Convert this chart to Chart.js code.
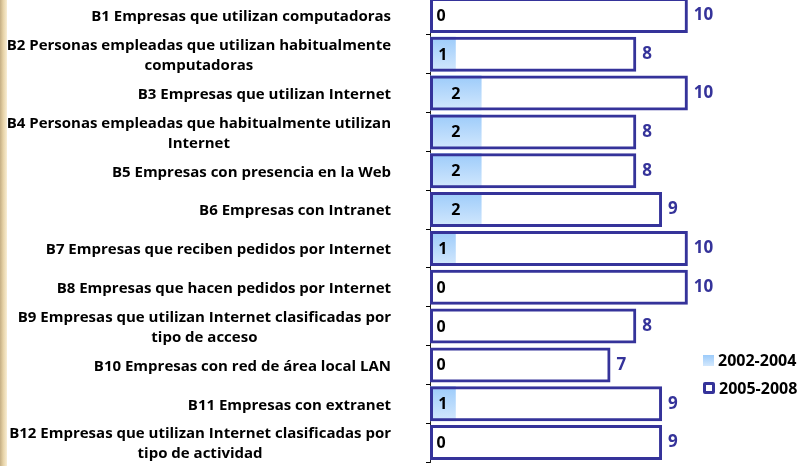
<!DOCTYPE html>
<html>
<head>
<meta charset="utf-8">
<script src="https://cdn.jsdelivr.net/npm/chart.js@4/dist/chart.umd.min.js"></script>
<style>
html, body { margin: 0; padding: 0; background: #fff; overflow: hidden; }
#wrap { position: relative; width: 803px; height: 466px; overflow: hidden; }
#edge { position: absolute; left: 0; top: 0; width: 7px; height: 466px;
        background: linear-gradient(to right, #c4ae84, #e6d2a6 45%, #f9eed4); }
#chart { position: absolute; left: 0; top: -4px; }
.leg { position: absolute; left: 703px; font: bold 16px "Open Sans", sans-serif; color: #000;
       display: flex; align-items: center; white-space: nowrap; }
.leg i { display: inline-block; margin-right: 4px; box-sizing: border-box; }
</style>
</head>
<body>
<div id="wrap">
  <div id="edge"></div>
  <canvas id="chart" width="803" height="470"></canvas>
  <div class="leg" style="top:349px"><i style="width:11px;height:11px;background:linear-gradient(#9ccbfa,#d3e8fd)"></i>2002-2004</div>
  <div class="leg" style="top:377px"><i style="width:12px;height:12px;border:3px solid #35339a;border-radius:2px;background:#fff"></i>2005-2008</div>
</div>
<script>
// Indicadores B1..B12 (wrapped the way the original chart shows them)
const categories = [
    ['B1 Empresas que utilizan computadoras'],
    ['B2 Personas empleadas que utilizan habitualmente', 'computadoras'],
    ['B3 Empresas que utilizan Internet'],
    ['B4 Personas empleadas que habitualmente utilizan', 'Internet'],
    ['B5 Empresas con presencia en la Web'],
    ['B6 Empresas con Intranet'],
    ['B7 Empresas que reciben pedidos por Internet'],
    ['B8 Empresas que hacen pedidos por Internet'],
    ['B9 Empresas que utilizan Internet clasificadas por', 'tipo de acceso'],
    ['B10 Empresas con red de área local LAN'],
    ['B11 Empresas con extranet'],
    ['B12 Empresas que utilizan Internet clasificadas por', 'tipo de actividad'],
];
const values2002 = [0, 1, 2, 2, 2, 2, 1, 0, 0, 0, 1, 0];
const values2005 = [10, 8, 10, 8, 8, 9, 10, 10, 8, 7, 9, 9];
const seriesNames = ['2002-2004', '2005-2008'];

const NAVY = '#35339a';
const LABEL_RIGHT = 391;

// light blue vertical gradient per bar
function lightBlue(ctx) {
    const chart = ctx.chart;
    if (!chart.chartArea || ctx.dataIndex == null) return '#b8dafc';
    const y = chart.scales.y.getPixelForValue(ctx.dataIndex);
    const h = chart.scales.y.height / categories.length * 0.45;
    const g = chart.ctx.createLinearGradient(0, y - h, 0, y + h);
    g.addColorStop(0, '#9ccbfa');
    g.addColorStop(1, '#d3e8fd');
    return g;
}

const labelPlugin = {
    id: 'labels',
    afterDatasetsDraw(chart) {
        const { ctx, scales: { y } } = chart;
        ctx.save();
        ctx.textBaseline = 'middle';

        // category labels: right aligned block, lines centered inside it
        ctx.font = 'bold 15px "Open Sans"';
        ctx.fillStyle = '#000';
        ctx.textAlign = 'center';
        categories.forEach((lines, i) => {
            const cy = y.getPixelForValue(i) + 1.5;
            const w = Math.max(...lines.map(l => ctx.measureText(l).width));
            const cx = LABEL_RIGHT - w / 2;
            lines.forEach((l, j) => ctx.fillText(l, cx, cy + (j - (lines.length - 1) / 2) * 20));
        });

        // 2002-2004 values inside the bars
        ctx.font = 'bold 16px "Open Sans"';
        chart.getDatasetMeta(0).data.forEach((bar, i) => {
            const cx = Math.max((bar.x + bar.base) / 2, bar.base + 11);
            ctx.fillText(values2002[i], cx, bar.y + 1);
        });

        // 2005-2008 values after the bars
        ctx.font = 'bold 17px "Open Sans"';
        ctx.fillStyle = NAVY;
        ctx.textAlign = 'left';
        chart.getDatasetMeta(1).data.forEach((bar, i) => {
            ctx.fillText(values2005[i], bar.x + 6, bar.y);
        });
        ctx.restore();
    }
};

new Chart(document.getElementById('chart'), {
    type: 'bar',
    data: {
        labels: categories,
        datasets: [
            {
                label: seriesNames[0],
                data: values2002,
                backgroundColor: lightBlue,
                borderWidth: 0,
                order: 1,
            },
            {
                label: seriesNames[1],
                data: values2005,
                backgroundColor: 'rgba(255,255,255,0)',
                borderColor: NAVY,
                borderWidth: 3,
                borderSkipped: false,
                order: 0,
            }
        ]
    },
    options: {
        indexAxis: 'y',
        responsive: false,
        animation: false,
        layout: { padding: { top: 0, bottom: 4, right: 12, left: 0 } },
        datasets: { bar: { grouped: false, categoryPercentage: 0.9, barPercentage: 1 } },
        plugins: { legend: { display: false }, tooltip: { enabled: false } },
        scales: {
            x: { display: false, min: 0, max: 14 },
            y: {
                ticks: { display: false },
                grid: { drawOnChartArea: false, drawTicks: true, tickLength: 4, color: '#000' },
                border: { display: true, color: '#222', width: 1 },
                afterFit: s => { s.width = 430; }
            }
        }
    },
    plugins: [labelPlugin]
});
</script>
</body>
</html>
